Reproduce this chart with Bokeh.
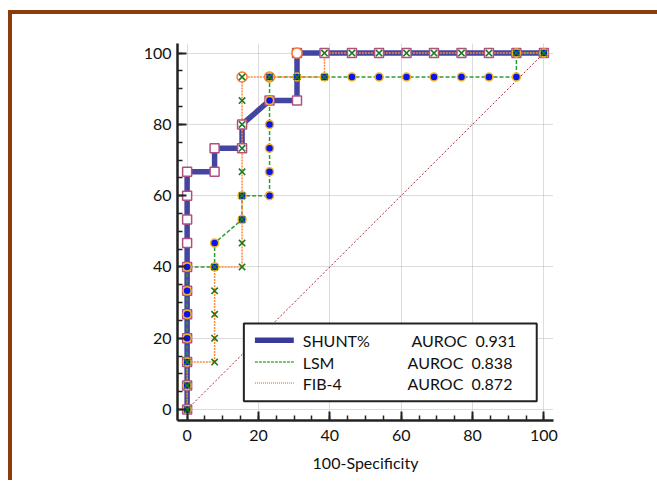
from bokeh.plotting import figure
from bokeh.models import Range1d, FixedTicker
from bokeh.core.properties import value
from bokeh.embed import file_html
from bokeh.resources import INLINE

# ---------------- data ----------------
shunt_x = [0, 0, 0, 0, 0, 0, 0, 0, 0, 0, 0, 7.7, 7.7, 15.4, 15.4, 23.1, 30.8, 30.8,
           38.5, 46.2, 53.8, 61.5, 69.2, 76.9, 84.6, 92.3, 100]
shunt_y = [0, 6.7, 13.3, 20, 26.7, 33.3, 40, 46.7, 53.3, 60, 66.7, 66.7, 73.3, 73.3, 80, 86.7, 86.7, 100,
           100, 100, 100, 100, 100, 100, 100, 100, 100]

lsm_x = [0, 0, 0, 0, 0, 0, 0, 7.7, 7.7, 15.4, 15.4, 23.1, 23.1, 23.1, 23.1, 23.1, 23.1,
         30.8, 38.5, 46.2, 53.8, 61.5, 69.2, 76.9, 84.6, 92.3, 92.3, 100]
lsm_y = [0, 6.7, 13.3, 20, 26.7, 33.3, 40, 40, 46.7, 53.3, 60, 60, 66.7, 73.3, 80, 86.7, 93.3,
         93.3, 93.3, 93.3, 93.3, 93.3, 93.3, 93.3, 93.3, 93.3, 100, 100]

fib4_x = [0, 0, 0, 7.7, 7.7, 7.7, 7.7, 7.7, 15.4, 15.4, 15.4, 15.4, 15.4, 15.4, 15.4, 15.4, 15.4,
          23.1, 30.8, 38.5, 38.5, 46.2, 53.8, 61.5, 69.2, 76.9, 84.6, 92.3, 100]
fib4_y = [0, 6.7, 13.3, 13.3, 20, 26.7, 33.3, 40, 40, 46.7, 53.3, 60, 66.7, 73.3, 80, 86.7, 93.3,
          93.3, 93.3, 93.3, 100, 100, 100, 100, 100, 100, 100, 100, 100]

open_circle_x = [15.4, 23.1, 30.8]
open_circle_y = [93.3, 93.3, 100]

ref_x = [0, 100]
ref_y = [0, 100]

series_names = ["SHUNT%", "LSM", "FIB-4"]
auroc_values = ["0.931", "0.838", "0.872"]

major_ticks = [0, 20, 40, 60, 80, 100]
minor_ticks = [0, 5, 10, 15, 20, 25, 30, 35, 40, 45, 50, 55, 60, 65, 70, 75, 80, 85, 90, 95, 100]

# ---------------- styles ----------------
FONT = "Lato"
SHUNT_COLOR = "#3a3a9c"
LSM_COLOR = "#2f9a2f"
FIB_COLOR = "#ff8a3c"
BROWN = "#8a3c0c"

p = figure(width=652, height=470,
           x_range=Range1d(-2.7, 102.7), y_range=Range1d(-3.1, 102.7),
           output_backend="svg", toolbar_location=None,
           min_border_left=165, min_border_top=29, min_border_right=111, min_border_bottom=64)
p.styles = {"border-left": f"4px solid {BROWN}", "border-top": f"4px solid {BROWN}",
            "margin-top": "10px", "margin-left": "8px"}
p.outline_line_color = None
p.background_fill_color = "white"
p.border_fill_color = "white"

for ax in (p.xaxis[0], p.yaxis[0]):
    ax.ticker = FixedTicker(ticks=major_ticks, minor_ticks=minor_ticks)
    ax.axis_line_width = 2.5
    ax.axis_line_color = "#222222"
    ax.major_tick_in = 9
    ax.major_tick_out = 0
    ax.minor_tick_in = 5
    ax.minor_tick_out = 0
    ax.major_tick_line_width = 2
    ax.major_tick_line_color = "#222222"
    ax.minor_tick_line_width = 1.5
    ax.minor_tick_line_color = "#222222"
    ax.major_label_text_font = FONT
    ax.major_label_text_font_size = "16px"
    ax.major_label_text_color = "#111111"

p.yaxis.major_label_standoff = 6
p.xaxis.major_label_standoff = 9
p.xaxis.axis_label = "100-Specificity"
p.xaxis.axis_label_text_font = FONT
p.xaxis.axis_label_text_font_size = "16px"
p.xaxis.axis_label_text_font_style = "normal"
p.xaxis.axis_label_text_color = "#111111"
p.xaxis.axis_label_standoff = 9

p.xgrid.ticker = FixedTicker(ticks=major_ticks)
p.ygrid.ticker = FixedTicker(ticks=major_ticks)
p.grid.grid_line_color = "#b8b8b8"
p.grid.grid_line_dash = "1 1"
p.grid.grid_line_width = 1

# reference diagonal
p.line(ref_x, ref_y, line_color="#a52a35", line_width=1, line_dash="2 2")

# curves
p.line(shunt_x, shunt_y, line_color=SHUNT_COLOR, line_width=5.5, line_alpha=0.95)
p.line(lsm_x, lsm_y, line_color=LSM_COLOR, line_width=1.5, line_dash="4 2")
p.line(fib4_x, fib4_y, line_color=FIB_COLOR, line_width=1.5, line_dash="2 1")

# markers
p.scatter(shunt_x, shunt_y, marker="square", size=9, fill_color="white",
          line_color="#b0507f", line_width=1.5)
p.scatter(open_circle_x, open_circle_y, marker="circle", size=10, fill_color="white",
          line_color="#ff7a2a", line_width=1.5)
p.scatter(lsm_x, lsm_y, marker="circle", size=8, fill_color="#0a14f0",
          line_color="#f4b41a", line_width=1.5)
p.scatter(fib4_x, fib4_y, marker="x", size=9, line_color="#1e7a1e", line_width=1.6)

# legend (drawn manually to get the two text columns)
p.quad(left=15.9, right=98.0, top=24.1, bottom=2.3, fill_color="white",
       line_color="#222222", line_width=2)
row_y = [19.4, 13.3, 7.4]
p.segment(x0=19.0, y0=row_y[0], x1=29.9, y1=row_y[0], line_color=SHUNT_COLOR, line_width=5.5)
p.segment(x0=19.0, y0=row_y[1], x1=29.9, y1=row_y[1], line_color="#4caf50", line_width=1.5,
          line_dash="3 1")
p.segment(x0=19.0, y0=row_y[2], x1=29.9, y1=row_y[2], line_color=FIB_COLOR, line_width=1.5,
          line_dash="1 1")
p.text(x=[32.4] * 3, y=row_y, text=series_names, text_font=value(FONT),
       text_font_size="16px", text_baseline="middle", text_color="#111111")
p.text(x=[62.9, 61.8, 61.8], y=row_y, text=["AUROC\u00a0 " + v for v in auroc_values],
       text_font=value(FONT), text_font_size="16px", text_baseline="middle",
       text_color="#111111")

open("out.html", "w").write(file_html(p, INLINE))
